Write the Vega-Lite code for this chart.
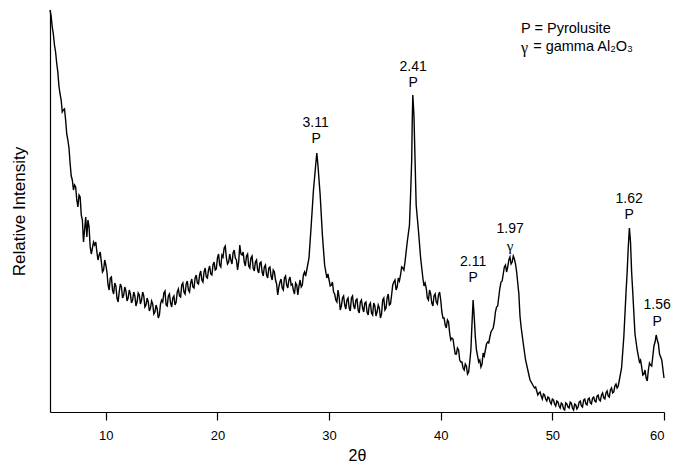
{
  "$schema": "https://vega.github.io/schema/vega-lite/v6.json",
  "width": 614,
  "height": 402,
  "autosize": {"type": "none"},
  "padding": {"left": 50, "top": 10, "right": 9, "bottom": 52},
  "background": "white",
  "config": {"view": {"stroke": null}, "font": "Liberation Sans"},
  "layer": [
    {
      "data": {"values": [
        {"t":5.0,"i":402},{"t":5.1,"i":396},{"t":5.2,"i":385},{"t":5.3,"i":378},{"t":5.4,"i":367},{"t":5.5,"i":360},{"t":5.6,"i":349},{"t":5.7,"i":340},{"t":5.8,"i":326},{"t":5.9,"i":318},
        {"t":6.0,"i":312},{"t":6.2,"i":302},{"t":6.4,"i":292},{"t":6.6,"i":272},{"t":6.8,"i":249},{"t":7.0,"i":232},{"t":7.2,"i":227},{"t":7.4,"i":212},{"t":7.6,"i":217},{"t":7.8,"i":197},
        {"t":8.0,"i":170},{"t":8.2,"i":195},{"t":8.3,"i":175},{"t":8.4,"i":192},{"t":8.6,"i":165},{"t":8.8,"i":164},{"t":9.0,"i":167},{"t":9.2,"i":160},{"t":9.4,"i":157},{"t":9.6,"i":150},{"t":9.8,"i":142},
        {"t":10.0,"i":147},{"t":10.2,"i":127},{"t":10.4,"i":134},{"t":10.6,"i":122},{"t":10.8,"i":129},{"t":11.0,"i":114},{"t":11.2,"i":120},{"t":11.4,"i":125},{"t":11.6,"i":117},{"t":11.8,"i":121},
        {"t":12.0,"i":114},{"t":12.2,"i":118},{"t":12.4,"i":112},{"t":12.6,"i":116},{"t":12.8,"i":110},{"t":13.0,"i":117},{"t":13.2,"i":112},{"t":13.4,"i":116},{"t":13.6,"i":107},{"t":13.8,"i":110},
        {"t":14.0,"i":104},{"t":14.2,"i":108},{"t":14.4,"i":100},{"t":14.6,"i":103},{"t":14.8,"i":97},{"t":15.0,"i":112},{"t":15.2,"i":119},{"t":15.4,"i":107},{"t":15.6,"i":116},{"t":15.8,"i":109},
        {"t":16.0,"i":114},{"t":16.2,"i":107},{"t":16.4,"i":120},{"t":16.6,"i":116},{"t":16.8,"i":127},{"t":17.0,"i":120},{"t":17.2,"i":128},{"t":17.4,"i":122},{"t":17.6,"i":129},{"t":17.8,"i":125},
        {"t":18.0,"i":134},{"t":18.2,"i":129},{"t":18.4,"i":137},{"t":18.6,"i":132},{"t":18.8,"i":140},{"t":19.0,"i":135},{"t":19.2,"i":142},{"t":19.4,"i":138},{"t":19.6,"i":147},{"t":19.8,"i":142},
        {"t":20.0,"i":154},{"t":20.2,"i":147},{"t":20.4,"i":157},{"t":20.6,"i":164},{"t":20.8,"i":154},{"t":21.0,"i":150},{"t":21.2,"i":152},{"t":21.4,"i":159},{"t":21.6,"i":154},{"t":21.8,"i":142},
        {"t":22.0,"i":167},{"t":22.2,"i":157},{"t":22.4,"i":150},{"t":22.6,"i":156},{"t":22.8,"i":146},{"t":23.0,"i":154},{"t":23.2,"i":144},{"t":23.4,"i":150},{"t":23.6,"i":142},{"t":23.8,"i":149},
        {"t":24.0,"i":140},{"t":24.2,"i":145},{"t":24.4,"i":137},{"t":24.6,"i":144},{"t":24.8,"i":136},{"t":25.0,"i":142},{"t":25.2,"i":132},{"t":25.4,"i":117},{"t":25.6,"i":130},{"t":25.8,"i":124},
        {"t":26.0,"i":134},{"t":26.2,"i":127},{"t":26.4,"i":132},{"t":26.6,"i":127},{"t":26.8,"i":122},{"t":27.0,"i":129},{"t":27.2,"i":117},{"t":27.4,"i":132},{"t":27.6,"i":127},{"t":27.8,"i":140},
        {"t":28.0,"i":142},{"t":28.2,"i":154},{"t":28.4,"i":187},{"t":28.6,"i":222},{"t":28.8,"i":247},{"t":28.9,"i":259},{"t":29.0,"i":247},{"t":29.2,"i":217},{"t":29.4,"i":177},{"t":29.6,"i":147},{"t":29.8,"i":134},
        {"t":30.0,"i":132},{"t":30.2,"i":127},{"t":30.4,"i":120},{"t":30.6,"i":112},{"t":30.8,"i":122},{"t":31.0,"i":102},{"t":31.2,"i":114},{"t":31.4,"i":107},{"t":31.6,"i":112},{"t":31.8,"i":104},
        {"t":32.0,"i":114},{"t":32.2,"i":106},{"t":32.4,"i":112},{"t":32.6,"i":102},{"t":32.8,"i":110},{"t":33.0,"i":104},{"t":33.2,"i":109},{"t":33.4,"i":100},{"t":33.6,"i":107},{"t":33.8,"i":99},
        {"t":34.0,"i":109},{"t":34.2,"i":96},{"t":34.4,"i":107},{"t":34.6,"i":94},{"t":34.8,"i":112},{"t":35.0,"i":102},{"t":35.2,"i":114},{"t":35.4,"i":107},{"t":35.6,"i":117},{"t":35.8,"i":130},
        {"t":36.0,"i":122},{"t":36.2,"i":134},{"t":36.4,"i":137},{"t":36.6,"i":144},{"t":36.8,"i":150},{"t":37.0,"i":170},{"t":37.2,"i":187},{"t":37.3,"i":217},{"t":37.4,"i":252},{"t":37.45,"i":292},{"t":37.5,"i":317},
        {"t":37.6,"i":297},{"t":37.7,"i":252},{"t":37.8,"i":207},{"t":38.0,"i":182},{"t":38.2,"i":154},{"t":38.4,"i":134},{"t":38.6,"i":129},{"t":38.8,"i":114},{"t":39.0,"i":122},{"t":39.2,"i":109},
        {"t":39.4,"i":116},{"t":39.6,"i":110},{"t":39.8,"i":117},{"t":40.0,"i":112},{"t":40.2,"i":94},{"t":40.4,"i":87},{"t":40.6,"i":92},{"t":40.8,"i":79},{"t":41.0,"i":74},{"t":41.2,"i":65},
        {"t":41.4,"i":58},{"t":41.6,"i":62},{"t":41.8,"i":50},{"t":42.0,"i":44},{"t":42.2,"i":48},{"t":42.4,"i":38},{"t":42.6,"i":50},{"t":42.7,"i":62},{"t":42.8,"i":88},{"t":42.9,"i":112},
        {"t":43.0,"i":95},{"t":43.1,"i":75},{"t":43.2,"i":62},{"t":43.4,"i":50},{"t":43.6,"i":45},{"t":43.8,"i":59},{"t":44.0,"i":62},{"t":44.2,"i":70},{"t":44.4,"i":75},{"t":44.6,"i":82},
        {"t":44.8,"i":90},{"t":45.0,"i":105},{"t":45.2,"i":115},{"t":45.4,"i":130},{"t":45.6,"i":138},{"t":45.8,"i":147},{"t":46.0,"i":145},{"t":46.2,"i":155},{"t":46.4,"i":150},{"t":46.6,"i":153},
        {"t":46.8,"i":140},{"t":47.0,"i":118},{"t":47.1,"i":96},{"t":47.2,"i":85},{"t":47.4,"i":68},{"t":47.6,"i":52},{"t":47.8,"i":42},{"t":48.0,"i":32},{"t":48.2,"i":28},{"t":48.4,"i":24},
        {"t":48.6,"i":21},{"t":48.8,"i":19},{"t":49.0,"i":16},{"t":49.2,"i":18},{"t":49.4,"i":13},{"t":49.6,"i":15},{"t":49.8,"i":10},{"t":50.0,"i":13},{"t":50.2,"i":8},{"t":50.4,"i":11},
        {"t":50.6,"i":6},{"t":50.8,"i":9},{"t":51.0,"i":3},{"t":51.2,"i":9},{"t":51.4,"i":5},{"t":51.6,"i":10},{"t":51.8,"i":4},{"t":52.0,"i":8},{"t":52.2,"i":3},{"t":52.4,"i":10},
        {"t":52.6,"i":6},{"t":52.8,"i":12},{"t":53.0,"i":8},{"t":53.2,"i":13},{"t":53.4,"i":9},{"t":53.6,"i":14},{"t":53.8,"i":11},{"t":54.0,"i":16},{"t":54.2,"i":12},{"t":54.4,"i":17},
        {"t":54.6,"i":14},{"t":54.8,"i":19},{"t":55.0,"i":16},{"t":55.2,"i":22},{"t":55.4,"i":19},{"t":55.6,"i":26},{"t":55.8,"i":24},{"t":56.0,"i":32},{"t":56.2,"i":44},{"t":56.4,"i":75},
        {"t":56.6,"i":120},{"t":56.7,"i":140},{"t":56.8,"i":165},{"t":56.9,"i":184},{"t":57.0,"i":170},{"t":57.1,"i":140},{"t":57.2,"i":120},{"t":57.4,"i":78},{"t":57.6,"i":62},{"t":57.8,"i":50},
        {"t":58.0,"i":45},{"t":58.2,"i":38},{"t":58.4,"i":34},{"t":58.6,"i":42},{"t":58.8,"i":47},{"t":59.0,"i":56},{"t":59.2,"i":70},{"t":59.3,"i":77},{"t":59.4,"i":72},{"t":59.5,"i":68},
        {"t":59.6,"i":58},{"t":59.8,"i":52},{"t":60.0,"i":34},
        {"t":6.1,"i":300},{"t":6.3,"i":303},{"t":6.5,"i":278},{"t":6.7,"i":264},{"t":6.9,"i":236},{"t":7.1,"i":222},{"t":7.3,"i":225},{"t":7.5,"i":205},{"t":7.7,"i":215},{"t":7.9,"i":192},
        {"t":8.5,"i":185},{"t":8.7,"i":158},{"t":8.9,"i":170},
        {"t":9.1,"i":170},{"t":9.3,"i":152},{"t":9.5,"i":160},{"t":9.7,"i":140},{"t":9.9,"i":152},{"t":10.1,"i":140},{"t":10.3,"i":122},{"t":10.5,"i":135},{"t":10.7,"i":118},{"t":10.9,"i":126},
        {"t":11.1,"i":110},{"t":11.3,"i":128},{"t":11.5,"i":114},{"t":11.7,"i":125},{"t":11.9,"i":111},{"t":12.1,"i":122},{"t":12.3,"i":109},{"t":12.5,"i":120},{"t":12.7,"i":106},{"t":12.9,"i":119},
        {"t":13.1,"i":108},{"t":13.3,"i":120},{"t":13.5,"i":105},{"t":13.7,"i":114},{"t":13.9,"i":101},{"t":14.1,"i":111},{"t":14.3,"i":98},{"t":14.5,"i":107},{"t":14.7,"i":94},{"t":14.9,"i":108},
        {"t":15.1,"i":110},{"t":15.3,"i":121},{"t":15.5,"i":106},{"t":15.7,"i":118},{"t":15.9,"i":105},{"t":16.1,"i":116},{"t":16.3,"i":110},{"t":16.5,"i":123},{"t":16.7,"i":115},{"t":16.9,"i":129},
        {"t":17.1,"i":118},{"t":17.3,"i":131},{"t":17.5,"i":120},{"t":17.7,"i":133},{"t":17.9,"i":124},{"t":18.1,"i":137},{"t":18.3,"i":128},{"t":18.5,"i":141},{"t":18.7,"i":130},{"t":18.9,"i":144},
        {"t":19.1,"i":134},{"t":19.3,"i":146},{"t":19.5,"i":137},{"t":19.7,"i":150},{"t":19.9,"i":143},{"t":20.1,"i":158},{"t":20.3,"i":145},{"t":20.5,"i":155},{"t":20.7,"i":166},{"t":20.9,"i":148},
        {"t":21.1,"i":158},{"t":21.3,"i":148},{"t":21.5,"i":162},{"t":21.7,"i":152},{"t":21.9,"i":150},{"t":22.1,"i":158},{"t":22.3,"i":160},{"t":22.5,"i":146},{"t":22.7,"i":158},{"t":22.9,"i":144},
        {"t":23.1,"i":156},{"t":23.3,"i":141},{"t":23.5,"i":152},{"t":23.7,"i":139},{"t":23.9,"i":150},{"t":24.1,"i":136},{"t":24.3,"i":147},{"t":24.5,"i":134},{"t":24.7,"i":145},{"t":24.9,"i":132},
        {"t":25.1,"i":140},{"t":25.3,"i":128},{"t":25.5,"i":125},{"t":25.7,"i":133},{"t":25.9,"i":122},{"t":26.1,"i":136},{"t":26.3,"i":124},{"t":26.5,"i":135},{"t":26.7,"i":128},{"t":26.9,"i":118},
        {"t":27.1,"i":127},{"t":27.3,"i":126},{"t":27.5,"i":125},{"t":27.7,"i":137},{"t":27.9,"i":136},
        {"t":29.9,"i":138},{"t":30.1,"i":126},{"t":30.3,"i":130},{"t":30.5,"i":118},{"t":30.7,"i":110},{"t":30.9,"i":115},{"t":31.1,"i":106},{"t":31.3,"i":116},{"t":31.5,"i":103},{"t":31.7,"i":114},
        {"t":31.9,"i":101},{"t":32.1,"i":116},{"t":32.3,"i":103},{"t":32.5,"i":113},{"t":32.7,"i":99},{"t":32.9,"i":112},{"t":33.1,"i":100},{"t":33.3,"i":110},{"t":33.5,"i":97},{"t":33.7,"i":109},
        {"t":33.9,"i":97},{"t":34.1,"i":106},{"t":34.3,"i":100},{"t":34.5,"i":104},{"t":34.7,"i":98},{"t":34.9,"i":114},{"t":35.1,"i":104},{"t":35.3,"i":118},{"t":35.5,"i":108},{"t":35.7,"i":127},
        {"t":35.9,"i":132},{"t":36.1,"i":125},{"t":36.3,"i":131},{"t":36.5,"i":145},{"t":36.7,"i":142},
        {"t":38.5,"i":126},{"t":38.7,"i":124},{"t":38.9,"i":112},{"t":39.1,"i":118},{"t":39.3,"i":106},{"t":39.5,"i":118},{"t":39.7,"i":108},{"t":39.9,"i":120},{"t":40.1,"i":100},{"t":40.3,"i":94},
        {"t":40.5,"i":84},{"t":40.7,"i":90},{"t":40.9,"i":72},{"t":41.1,"i":73},{"t":41.3,"i":58},{"t":41.5,"i":64},{"t":41.7,"i":52},{"t":41.9,"i":50},{"t":42.1,"i":42},{"t":42.3,"i":46},{"t":42.5,"i":40},
        {"t":43.5,"i":52},{"t":43.7,"i":48},{"t":43.9,"i":56},{"t":44.1,"i":68},{"t":44.3,"i":69},{"t":44.5,"i":80},{"t":44.7,"i":84},{"t":44.9,"i":100},{"t":45.1,"i":106},{"t":45.3,"i":124},
        {"t":45.5,"i":131},{"t":45.7,"i":145},{"t":45.9,"i":140},{"t":46.1,"i":152},{"t":46.3,"i":148},{"t":46.5,"i":156},{"t":46.7,"i":148},
        {"t":48.5,"i":25},{"t":48.7,"i":17},{"t":48.9,"i":20},{"t":49.1,"i":13},{"t":49.3,"i":17},{"t":49.5,"i":11},{"t":49.7,"i":14},{"t":49.9,"i":8},{"t":50.1,"i":12},{"t":50.3,"i":6},
        {"t":50.5,"i":10},{"t":50.7,"i":4},{"t":50.9,"i":8},{"t":51.1,"i":2},{"t":51.3,"i":8},{"t":51.5,"i":4},{"t":51.7,"i":9},{"t":51.9,"i":2},{"t":52.1,"i":7},{"t":52.3,"i":5},
        {"t":52.5,"i":11},{"t":52.7,"i":5},{"t":52.9,"i":13},{"t":53.1,"i":7},{"t":53.3,"i":14},{"t":53.5,"i":8},{"t":53.7,"i":15},{"t":53.9,"i":10},{"t":54.1,"i":17},{"t":54.3,"i":11},
        {"t":54.5,"i":19},{"t":54.7,"i":13},{"t":54.9,"i":21},{"t":55.1,"i":15},{"t":55.3,"i":24},{"t":55.5,"i":20},{"t":55.7,"i":28},{"t":55.9,"i":26},
        {"t":57.9,"i":52},{"t":58.1,"i":37},{"t":58.3,"i":42},{"t":58.5,"i":31},{"t":58.7,"i":49},{"t":58.9,"i":46},{"t":59.1,"i":66}
      ]},
      "mark": {"type": "line", "color": "black", "strokeWidth": 1.4},
      "encoding": {
        "x": {"field": "t", "type": "quantitative", "scale": {"domain": [5, 60], "nice": false, "zero": false},
          "axis": {"values": [10, 20, 30, 40, 50, 60], "title": "2θ", "grid": false, "domainColor": "black", "domainWidth": 1.2, "tickColor": "black", "tickSize": 8, "tickWidth": 1.2, "labelFontSize": 13, "labelColor": "black", "labelPadding": 9, "titleFontSize": 16, "titleFontWeight": "normal", "titleColor": "black", "titlePadding": 5}},
        "y": {"field": "i", "type": "quantitative", "scale": {"domain": [0, 402], "nice": false},
          "axis": {"title": "Relative Intensity", "ticks": false, "labels": false, "grid": false, "domainColor": "black", "domainWidth": 1.2, "titleFontSize": 17, "titleFontWeight": "normal", "titleColor": "black", "titlePadding": 22}}
      }
    },
    {
      "data": {"values": [
        {"t": 28.8, "i": 289, "label": "3.11"},
        {"t": 28.85, "i": 273, "label": "P"},
        {"t": 37.53, "i": 345, "label": "2.41"},
        {"t": 37.53, "i": 329, "label": "P"},
        {"t": 42.9, "i": 150, "label": "2.11"},
        {"t": 42.9, "i": 134, "label": "P"},
        {"t": 46.22, "i": 183, "label": "1.97"},
        {"t": 56.88, "i": 213, "label": "1.62"},
        {"t": 56.88, "i": 197, "label": "P"},
        {"t": 59.39, "i": 107, "label": "1.56"},
        {"t": 59.39, "i": 90, "label": "P"}
      ]},
      "mark": {"type": "text", "fontSize": 14, "color": "black", "baseline": "middle", "align": "center"},
      "encoding": {
        "x": {"field": "t", "type": "quantitative"},
        "y": {"field": "i", "type": "quantitative"},
        "text": {"field": "label"}
      }
    },
    {
      "data": {"values": [
        {"t": 46.22, "i": 166, "label": "γ"}
      ]},
      "mark": {"type": "text", "fontSize": 15, "font": "Liberation Serif", "color": "black", "baseline": "middle", "align": "center"},
      "encoding": {
        "x": {"field": "t", "type": "quantitative"},
        "y": {"field": "i", "type": "quantitative"},
        "text": {"field": "label"}
      }
    },
    {
      "data": {"values": [
        {"t": 47.2, "i": 383, "label": "P = Pyrolusite"},
        {"t": 48.28, "i": 365, "label": "= gamma Al₂O₃"}
      ]},
      "mark": {"type": "text", "fontSize": 14.5, "color": "black", "baseline": "middle", "align": "left"},
      "encoding": {
        "x": {"field": "t", "type": "quantitative"},
        "y": {"field": "i", "type": "quantitative"},
        "text": {"field": "label"}
      }
    },
    {
      "data": {"values": [
        {"t": 47.2, "i": 364, "label": "γ"}
      ]},
      "mark": {"type": "text", "fontSize": 16, "font": "Liberation Serif", "color": "black", "baseline": "middle", "align": "left"},
      "encoding": {
        "x": {"field": "t", "type": "quantitative"},
        "y": {"field": "i", "type": "quantitative"},
        "text": {"field": "label"}
      }
    }
  ]
}
